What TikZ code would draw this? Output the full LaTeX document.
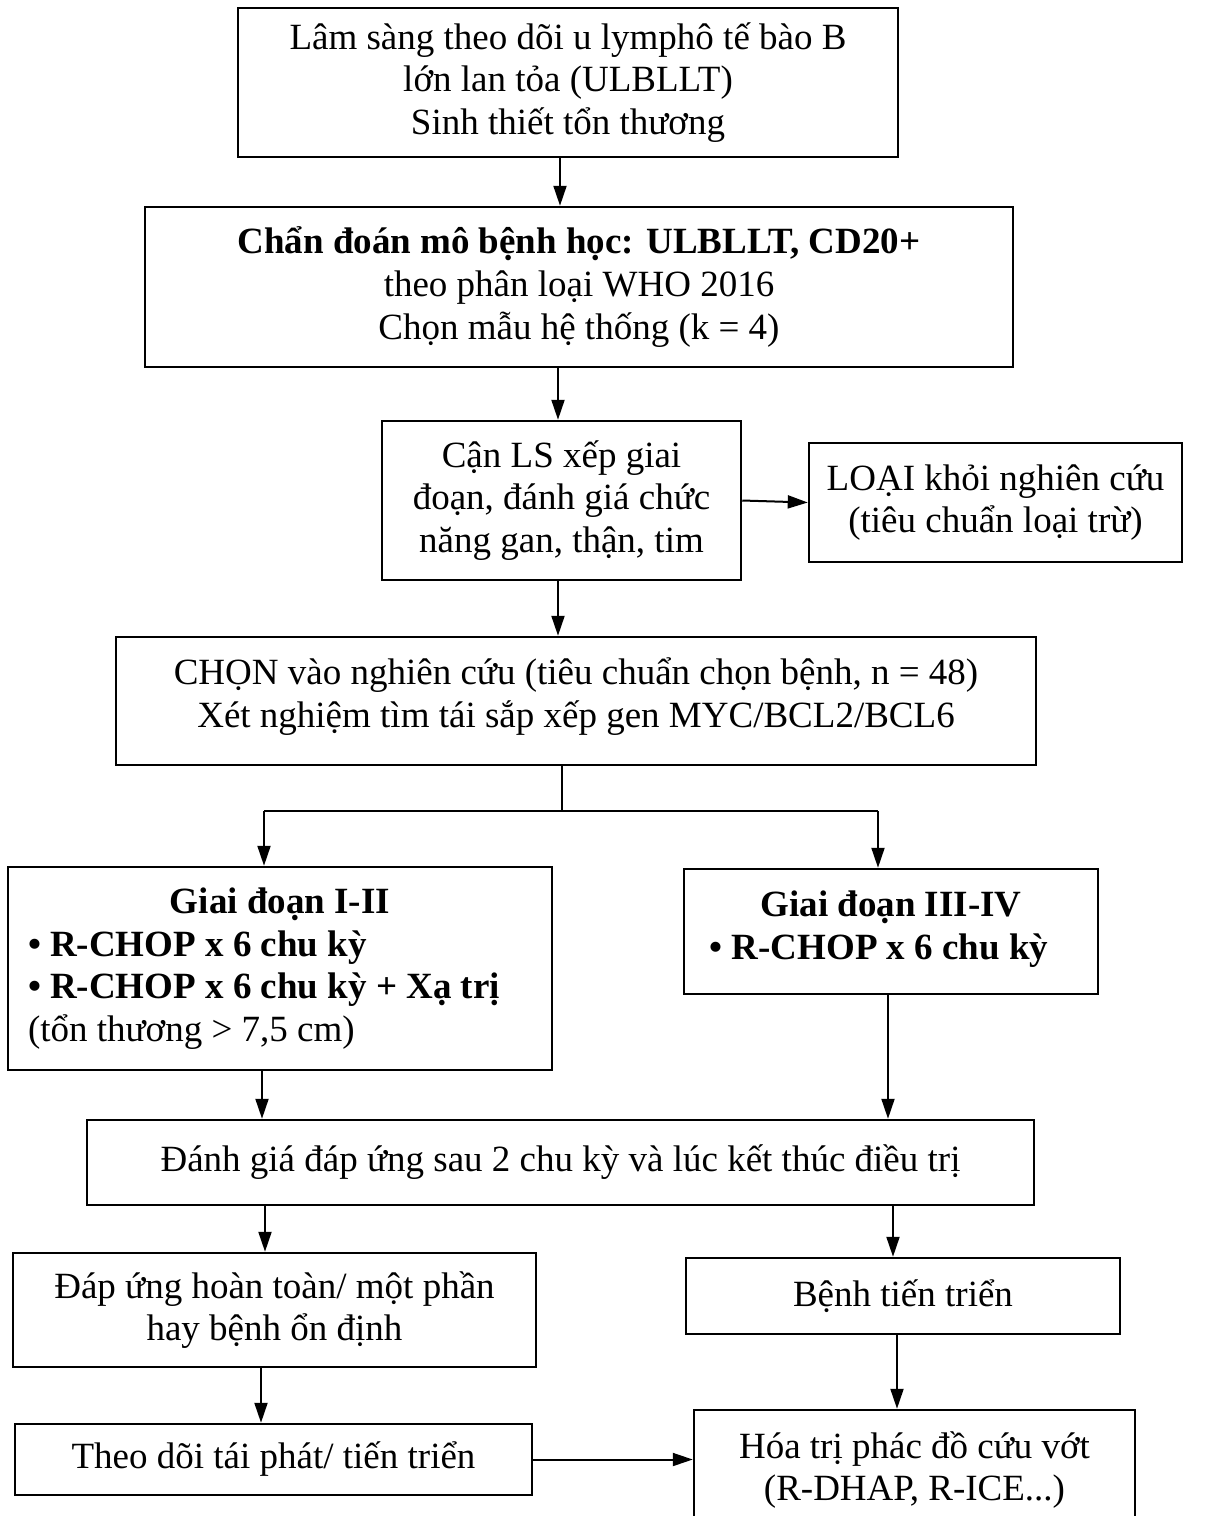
\documentclass[tikz,border=0pt]{standalone}
\usepackage{fontspec}
\setmainfont{Liberation Serif}
\usetikzlibrary{arrows.meta}
\begin{document}
\begin{tikzpicture}[x=1pt,y=-1pt,
  box/.style={draw, line width=2.5pt, inner sep=0pt, align=center,
    font=\fontsize{37}{42.6}\selectfont},
  arr/.style={line width=2pt, -{Triangle[length=20pt,width=13pt]}},
  ln/.style={line width=1.6pt}]
\useasboundingbox (0,0) rectangle (1216,1516);
\fill[white] (0,0) rectangle (1216,1516);

\node[box, minimum width=660pt, minimum height=149pt] (b1) at (568,82.5)
  {Lâm sàng theo dõi u lymphô tế bào B\\lớn lan tỏa (ULBLLT)\\Sinh thiết tổn thương};
\node[box, minimum width=868pt, minimum height=160pt] (b2) at (579,287)
  {\textbf{Chẩn đoán mô bệnh học: ULBLLT, CD20+}\\theo phân loại WHO 2016\\Chọn mẫu hệ thống (k = 4)};
\node[box, minimum width=359pt, minimum height=159pt] (b3) at (561.5,500.5)
  {Cận LS xếp giai\\đoạn, đánh giá chức\\năng gan, thận, tim};
\node[box, minimum width=373pt, minimum height=119pt] (loai) at (995.5,502.5)
  {LOẠI khỏi nghiên cứu\\(tiêu chuẩn loại trừ)};
\node[box, minimum width=920pt, minimum height=128pt] (b4) at (576,701)
  {CHỌN vào nghiên cứu (tiêu chuẩn chọn bệnh, n = 48)\\Xét nghiệm tìm tái sắp xếp gen MYC/BCL2/BCL6\\[-26pt]\mbox{}};
\node[box, minimum width=544pt, minimum height=203pt, text width=504pt, align=flush left] (g12) at (280,968.5)
  {\makebox[\linewidth][c]{\textbf{Giai đoạn I-II}}\\
   \textbf{• R-CHOP x 6 chu kỳ}\\
   \textbf{• R-CHOP x 6 chu kỳ + Xạ trị}\\
   (tổn thương > 7,5 cm)};
\node[box, minimum width=414pt, minimum height=125pt] (g34) at (891,931.5)
  {\textbf{Giai đoạn III-IV}\\\textbf{• R-CHOP x 6 chu kỳ}\hspace*{24pt}\null\\[-30pt]\mbox{}};
\node[box, minimum width=947pt, minimum height=85pt] (dg) at (560.5,1162.5)
  {Đánh giá đáp ứng sau 2 chu kỳ và lúc kết thúc điều trị};
\node[box, minimum width=523pt, minimum height=114pt] (du) at (274.5,1310)
  {Đáp ứng hoàn toàn/ một phần\\hay bệnh ổn định};
\node[box, minimum width=434pt, minimum height=76pt] (tt) at (903,1296)
  {Bệnh tiến triển};
\node[box, minimum width=517pt, minimum height=71pt] (td) at (273.5,1459.5)
  {Theo dõi tái phát/ tiến triển};
\node[box, minimum width=441pt, minimum height=120pt] (ht) at (914.5,1470)
  {Hóa trị phác đồ cứu vớt\\(R-DHAP, R-ICE...)};

\coordinate (split) at (562,811);
\draw[arr] ([xshift=-8pt]b1.south) -- ([xshift=-8pt]b1.south |- b2.north);
\draw[arr] ([xshift=-21pt]b2.south) -- ([xshift=-21pt]b2.south |- b3.north);
\draw[arr] (b3.east) -- (loai.west);
\draw[arr] ([xshift=-3.5pt]b3.south) -- ([xshift=-3.5pt]b3.south |- b4.north);
\draw[ln] (b4.south -| split) -- (split);
\draw[ln] (264,811) -- (878,811);
\draw[arr] (264,811) -- (264,811 |- g12.north);
\draw[arr] (878,811) -- (878,811 |- g34.north);
\draw[arr] ([xshift=-18pt]g12.south) -- ([xshift=-18pt]g12.south |- dg.north);
\draw[arr] ([xshift=-3pt]g34.south) -- ([xshift=-3pt]g34.south |- dg.north);
\draw[arr] ([xshift=-295.5pt]dg.south) -- ([xshift=-295.5pt]dg.south |- du.north);
\draw[arr] ([xshift=332.5pt]dg.south) -- ([xshift=332.5pt]dg.south |- tt.north);
\draw[arr] ([xshift=-13.5pt]du.south) -- ([xshift=-13.5pt]du.south |- td.north);
\draw[arr] ([xshift=-6pt]tt.south) -- ([xshift=-6pt]tt.south |- ht.north);
\draw[arr] (td.east) -- (td.east -| ht.west);
\end{tikzpicture}
\end{document}
